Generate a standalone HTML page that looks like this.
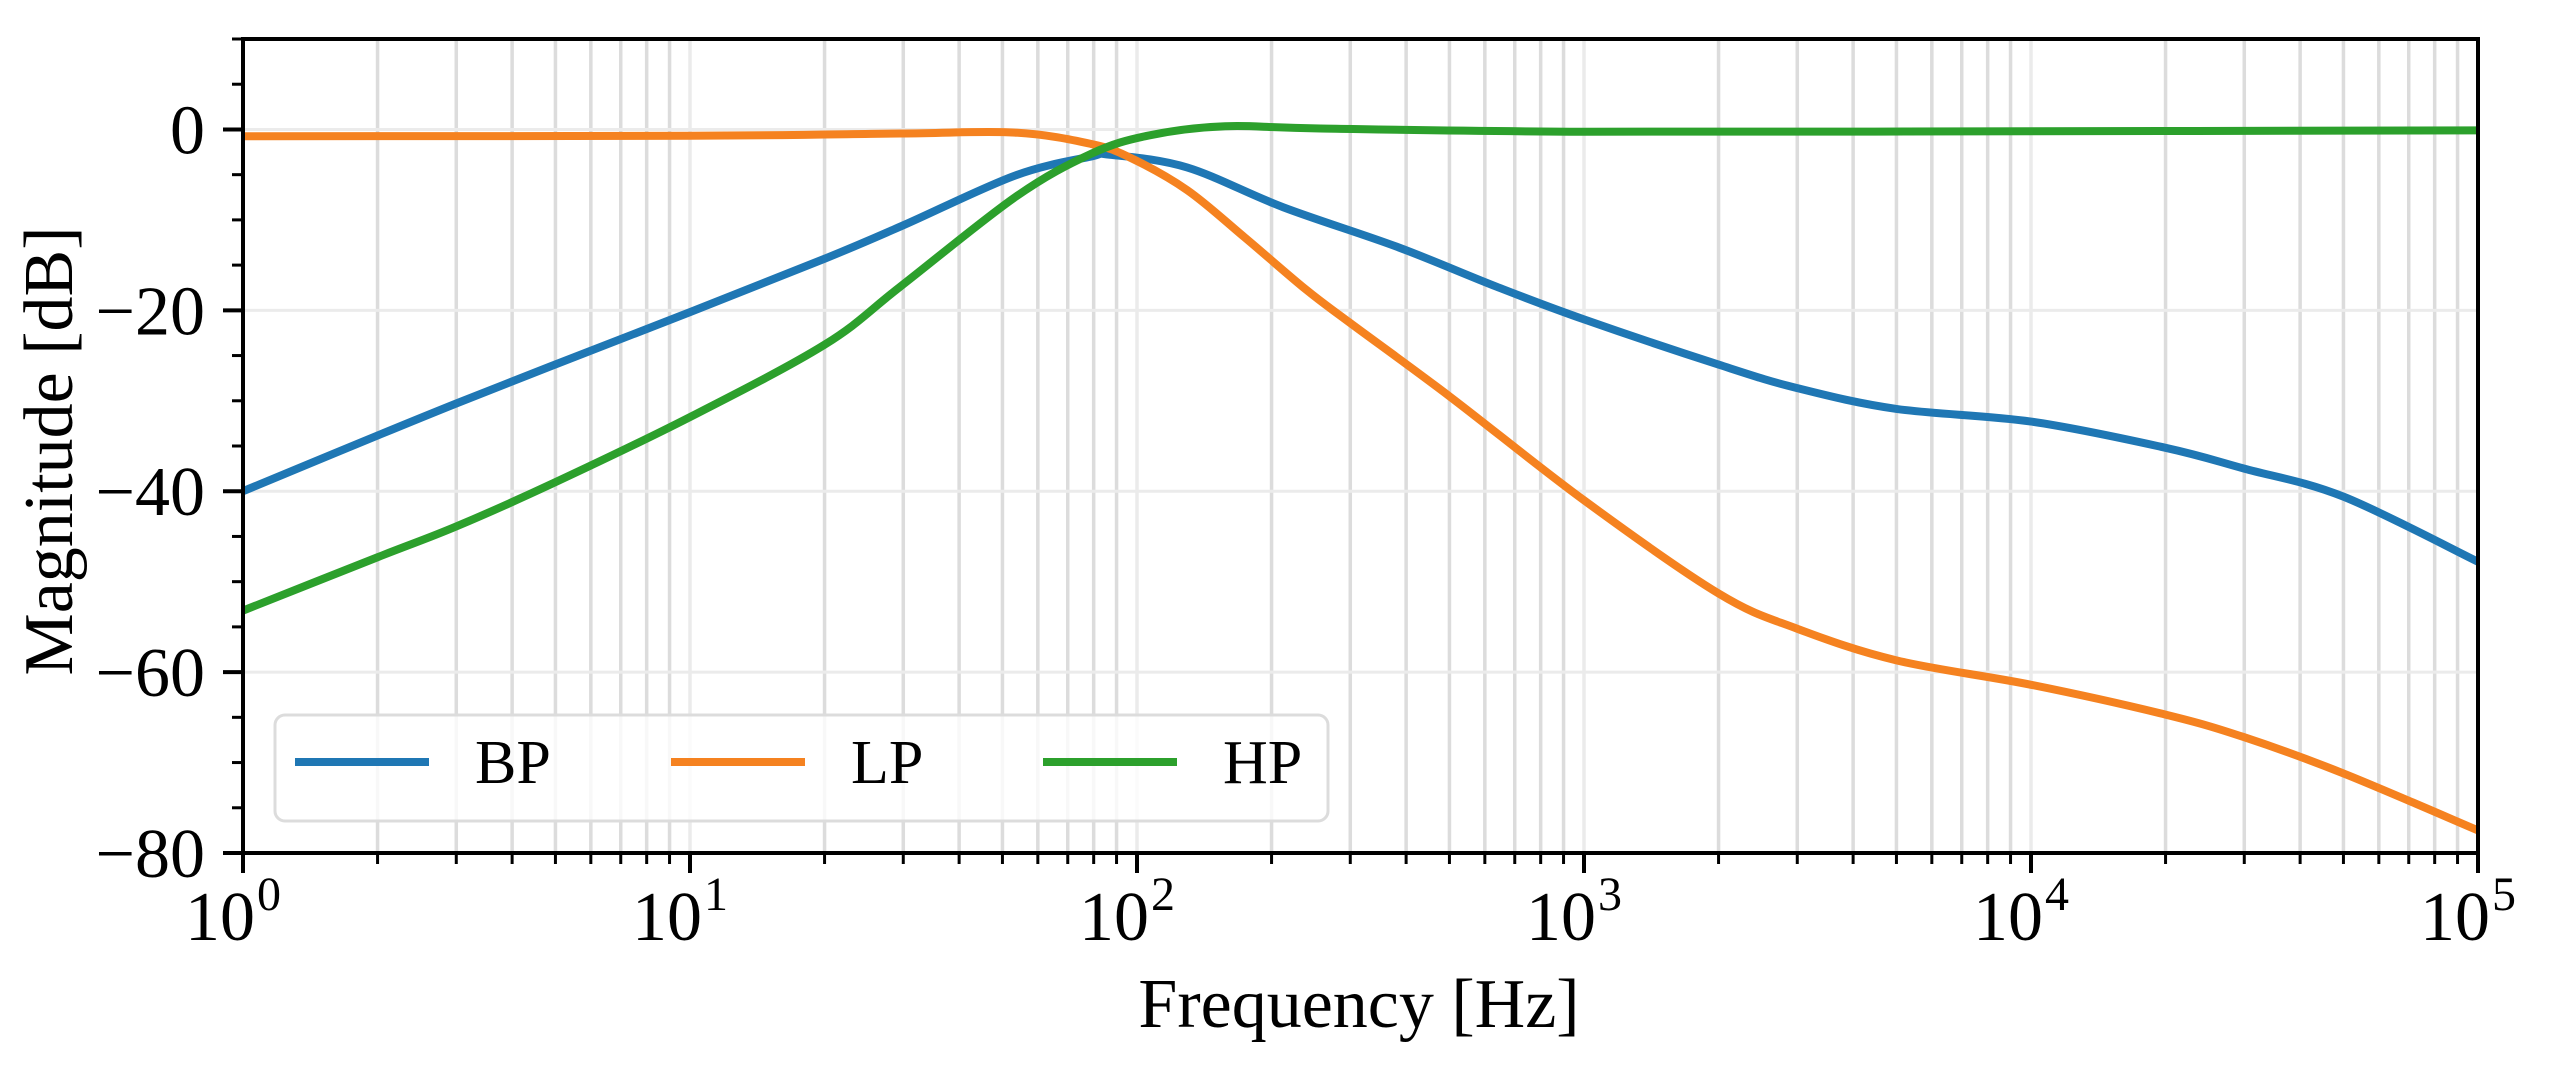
<!DOCTYPE html>
<html><head><meta charset="utf-8"><style>
html,body{margin:0;padding:0;background:#fff;}
svg{display:block;font-family:"Liberation Serif","DejaVu Serif",serif;}
</style></head><body>
<svg id="chart" width="2555" height="1085" viewBox="0 0 2555 1085" xmlns="http://www.w3.org/2000/svg">
<g id="grid"></g>
<g id="series"></g>
<g id="axes"></g>
<g id="legend"></g>
</svg>
<script>
// ---- data (log10 frequency in Hz, magnitude in dB) ----
const bpLogF = [0, 0.477, 1, 1.301, 1.477, 1.727, 1.897, 1.94, 2.112, 2.327, 2.583, 2.805, 3, 3.301, 3.477, 3.699, 4, 4.301, 4.477, 4.699, 5];
const bpDb   = [-40, -30.3, -20.2, -14.3, -10.6, -5.1, -3.0, -2.8, -4.2, -8.6, -13.0, -17.4, -21.0, -26.0, -28.6, -30.9, -32.3, -35.2, -37.5, -40.6, -47.8];
const lpLogF = [0, 1, 1.47, 1.727, 1.897, 1.984, 2.112, 2.24, 2.378, 2.477, 2.699, 3, 3.301, 3.477, 3.699, 4, 4.301, 4.477, 4.699, 5];
const lpDb   = [-0.75, -0.7, -0.45, -0.35, -1.6, -3.1, -6.7, -11.9, -17.7, -21.4, -29.5, -41.0, -51.3, -55.2, -58.7, -61.4, -64.7, -67.2, -71.2, -77.5];
const hpLogF = [0, 0.301, 0.477, 0.699, 1, 1.301, 1.47, 1.727, 1.897, 2.027, 2.197, 2.41, 3, 4, 5];
const hpDb   = [-53.2, -47.3, -43.9, -39.0, -31.8, -23.8, -17.4, -7.5, -2.7, -0.66, 0.35, 0.1, -0.25, -0.2, -0.1];
const seriesNames = ["BP", "LP", "HP"];
const seriesColors = ["#1f77b4", "#f58220", "#2ca02c"];
const xTickExps = [0, 1, 2, 3, 4, 5];
const yTicks = [0, -20, -40, -60, -80];

// ---- axes mapping ----
const L = 243, R = 2478, T = 39, B = 853;
const X0 = 0, X1 = 5, Y0 = -80, Y1 = 10;
const xs = v => L + (v - X0) / (X1 - X0) * (R - L);
const ys = v => B - (v - Y0) / (Y1 - Y0) * (B - T);
const NS = "http://www.w3.org/2000/svg";
function mk(tag, attrs, parent) {
  const e = document.createElementNS(NS, tag);
  for (const k in attrs) e.setAttribute(k, attrs[k]);
  parent.appendChild(e);
  return e;
}
const grid = document.getElementById('grid');
const axes = document.getElementById('axes');
const series = document.getElementById('series');
const legend = document.getElementById('legend');

// grid
for (let d = 0; d < 5; d++) {
  for (let m = 1; m <= 9; m++) {
    const v = d + Math.log10(m);
    if (m === 1 && d === 0) continue;
    const ln = mk('line', {x1: xs(v), x2: xs(v), y1: T, y2: B, stroke: m === 1 ? '#ebebeb' : '#dcdcdc', 'stroke-width': 3.5}, grid);
    
    
  }
}
yTicks.forEach(t => {
  const ln = mk('line', {x1: L, x2: R, y1: ys(t), y2: ys(t), stroke: '#ebebeb', 'stroke-width': 3}, grid);
  
  
});

// series
function pathFor(lx, ly) {
  const P = lx.map((v, i) => [xs(v), ys(ly[i])]);
  let d = 'M' + P[0][0] + ',' + P[0][1];
  for (let i = 0; i < P.length - 1; i++) {
    const p0 = P[Math.max(i - 1, 0)], p1 = P[i], p2 = P[i + 1], p3 = P[Math.min(i + 2, P.length - 1)];
    const c1 = [p1[0] + (p2[0] - p0[0]) / 6, p1[1] + (p2[1] - p0[1]) / 6];
    const c2 = [p2[0] - (p3[0] - p1[0]) / 6, p2[1] - (p3[1] - p1[1]) / 6];
    d += ' C' + c1[0] + ',' + c1[1] + ' ' + c2[0] + ',' + c2[1] + ' ' + p2[0] + ',' + p2[1];
  }
  return d;
}
const allX = [bpLogF, lpLogF, hpLogF], allY = [bpDb, lpDb, hpDb];
const clip = mk('clipPath', {id: 'plotclip'}, series);
mk('rect', {x: L, y: T, width: R - L, height: B - T}, clip);
for (let s = 0; s < 3; s++) {
  const p = mk('path', {d: pathFor(allX[s], allY[s]), fill: 'none', stroke: seriesColors[s], 'stroke-width': 8, 'stroke-linejoin': 'round', 'clip-path': 'url(#plotclip)'}, series);
  
  
}

// axes frame
const frame = mk('rect', {x: L, y: T, width: R - L, height: B - T, fill: 'none', stroke: '#000', 'stroke-width': 4}, axes);



// x ticks
for (let d = 0; d <= 5; d++) {
  for (let m = 1; m <= 9; m++) {
    if (d === 5 && m > 1) break;
    const v = d + Math.log10(m);
    const len = m === 1 ? 20 : 11;
    const tk = mk('line', {x1: xs(v), x2: xs(v), y1: B, y2: B + len, stroke: '#000', 'stroke-width': m === 1 ? 4 : 3}, axes);
    
    
  }
}
xTickExps.forEach(e => {
  const t = mk('text', {x: xs(e) + 12, y: 940, 'font-size': 70, 'text-anchor': 'end', fill: '#000'}, axes);
  t.textContent = '10';
  
  
  const s = mk('text', {x: xs(e) + 14, y: 910, 'font-size': 48, fill: '#000'}, axes);
  s.textContent = String(e);
  
  
});

// y ticks
for (let v = Y0; v <= Y1; v += 5) {
  const major = v % 20 === 0;
  const tk = mk('line', {x1: L - (major ? 20 : 11), x2: L, y1: ys(v), y2: ys(v), stroke: '#000', 'stroke-width': major ? 4 : 3}, axes);
  
  
}
yTicks.forEach(v => {
  const t = mk('text', {x: 205, y: ys(v) + 24, 'font-size': 70, 'text-anchor': 'end', fill: '#000'}, axes);
  t.textContent = v < 0 ? '\u2212' + Math.abs(v) : String(v);
  
  
});

// axis titles
const xt = mk('text', {x: 1359, y: 1027, 'font-size': 70, 'text-anchor': 'middle', fill: '#000'}, axes);
xt.textContent = 'Frequency [Hz]';


const yt = mk('text', {x: 0, y: 0, 'font-size': 70, 'text-anchor': 'middle', fill: '#000', transform: 'translate(72,451) rotate(-90)'}, axes);
yt.textContent = 'Magnitude [dB]';



// legend
const lb = mk('rect', {x: 275, y: 715, width: 1053, height: 106, rx: 10, fill: 'rgba(255,255,255,0.8)', stroke: '#dcdcdc', 'stroke-width': 3}, legend);


const legX = [295, 671, 1043];
for (let s = 0; s < 3; s++) {
  const g = mk('g', {}, legend);
  
  
  const ln = mk('line', {x1: legX[s], x2: legX[s] + 134, y1: 762, y2: 762, stroke: seriesColors[s], 'stroke-width': 8}, g);
  
  
  const t = mk('text', {x: legX[s] + 180, y: 783, 'font-size': 62, fill: '#000'}, g);
  t.textContent = seriesNames[s];
  
  
}
</script>
</body></html>
